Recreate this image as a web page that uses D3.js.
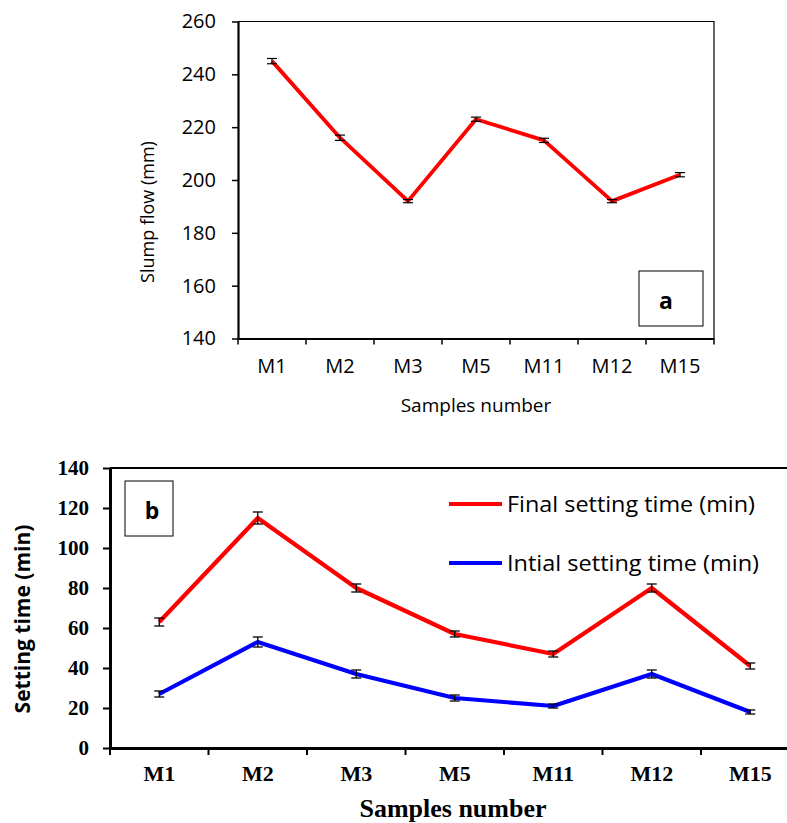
<!DOCTYPE html>
<html><head><meta charset="utf-8">
<script src="https://cdn.jsdelivr.net/npm/d3@7"></script>
<style>body{margin:0;background:#fff}svg{display:block}</style>
</head><body>
<svg id="c" width="787" height="823"></svg>
<script>
const categories = ["M1","M2","M3","M5","M11","M12","M15"];
const slumpFlow = [245,216,192,223,215,192,202];
const slumpErr = [1,1,0.6,0.8,0.8,0.6,0.8];
const slumpTicks = [140,160,180,200,220,240,260];
const finalSetting = [63,115,80,57,47,80,41];
const finalErr = [2,3,2,1.5,1.5,2,1.5];
const initialSetting = [27,53,37,25,21,37,18];
const initialErr = [1.5,2.5,2,1.5,1,2,1];
const settingTicks = [0,20,40,60,80,100,120,140];
const legendLabels = ["Final setting time (min)","Intial setting time (min)"];

const svg = d3.select("#c");
const sans = "'Open Sans', sans-serif";
const serif = "'Liberation Serif', 'Times New Roman', serif";

// ---------- Chart a ----------
(function(){
  const L=238, R=714, T=21.5, B=338.5;
  const g = svg.append("g");
  const x = d3.scaleBand().domain(categories).range([L,R]);
  const y = d3.scaleLinear().domain([140,260]).range([B,T]);
  g.append("path").attr("d",`M${L},${T}H${R}V${B}`).attr("fill","none").attr("stroke","#000").attr("stroke-width",1.2);
  const ya = g.append("g").attr("transform",`translate(${L},0)`)
    .call(d3.axisLeft(y).tickValues(slumpTicks).tickSize(6).tickPadding(16).tickSizeOuter(0));
  ya.select(".domain").attr("stroke-width",2.2);
  ya.selectAll(".tick line").attr("stroke-width",1.5);
  ya.selectAll("text").attr("font-family",sans).attr("font-size",20).attr("fill","#000");
  const xa = g.append("g").attr("transform",`translate(0,${B})`)
    .call(d3.axisBottom(x).tickSize(0).tickPadding(20).tickSizeOuter(0));
  xa.select(".domain").attr("stroke-width",2.2);
  xa.selectAll("text").attr("font-family",sans).attr("font-size",20).attr("fill","#000");
  g.append("g").selectAll("line").data(d3.range(categories.length+1)).join("line")
    .attr("x1",i=>L+i*x.step()).attr("x2",i=>L+i*x.step()).attr("y1",B).attr("y2",B+6)
    .attr("stroke","#000").attr("stroke-width",1.5);
  const line = d3.line().x((d,i)=>x(categories[i])+x.bandwidth()/2).y(d=>y(d));
  g.append("path").datum(slumpFlow).attr("d",line).attr("fill","none").attr("stroke","#ff0000").attr("stroke-width",3.8).attr("stroke-linejoin","round");
  const eb = g.append("g").attr("stroke","#000").attr("stroke-width",1.2);
  slumpFlow.forEach((v,i)=>{
    const cx = x(categories[i])+x.bandwidth()/2;
    eb.append("line").attr("x1",cx).attr("x2",cx).attr("y1",y(v-slumpErr[i])).attr("y2",y(v+slumpErr[i]));
    eb.append("line").attr("x1",cx-5).attr("x2",cx+5).attr("y1",y(v-slumpErr[i])).attr("y2",y(v-slumpErr[i]));
    eb.append("line").attr("x1",cx-5).attr("x2",cx+5).attr("y1",y(v+slumpErr[i])).attr("y2",y(v+slumpErr[i]));
  });
  g.append("rect").attr("x",639).attr("y",271).attr("width",64).attr("height",55).attr("fill","#fff").attr("stroke","#000").attr("stroke-width",1);
  g.append("text").attr("x",666).attr("y",309).attr("text-anchor","middle").attr("font-family",sans).attr("font-weight","bold").attr("font-size",23).text("a");
  g.append("text").attr("transform","translate(154,212) rotate(-90)").attr("text-anchor","middle")
    .attr("font-family",sans).attr("font-size",18).text("Slump flow  (mm)");
  g.append("text").attr("x",476).attr("y",412).attr("text-anchor","middle").attr("font-family",sans).attr("font-size",19).text("Samples number");
})();

// ---------- Chart b ----------
(function(){
  const L=110, Rfull=110+7*98.5, T=468, B=748;
  const g = svg.append("g");
  const x = d3.scaleBand().domain(categories).range([L,Rfull]);
  const y = d3.scaleLinear().domain([0,140]).range([B,T]);
  g.append("line").attr("x1",L).attr("x2",800).attr("y1",T).attr("y2",T).attr("stroke","#000").attr("stroke-width",2);
  const ya = g.append("g").attr("transform",`translate(${L},0)`)
    .call(d3.axisLeft(y).tickValues(settingTicks).tickSize(7).tickPadding(14).tickSizeOuter(0));
  ya.select(".domain").attr("stroke-width",3);
  ya.selectAll(".tick line").attr("stroke-width",2);
  ya.selectAll("text").attr("font-family",serif).attr("font-weight","bold").attr("font-size",21).attr("fill","#000");
  const xa = g.append("g").attr("transform",`translate(0,${B})`)
    .call(d3.axisBottom(x).tickSize(0).tickPadding(17).tickSizeOuter(0));
  xa.select(".domain").attr("stroke-width",3);
  xa.selectAll("text").attr("font-family",serif).attr("font-weight","bold").attr("font-size",22).attr("fill","#000");
  g.append("g").selectAll("line").data(d3.range(categories.length+1)).join("line")
    .attr("x1",i=>L+i*x.step()).attr("x2",i=>L+i*x.step()).attr("y1",B).attr("y2",B+7)
    .attr("stroke","#000").attr("stroke-width",2);
  const line = d3.line().x((d,i)=>x(categories[i])+x.bandwidth()/2).y(d=>y(d));
  const series = [[finalSetting,finalErr,"#ff0000"],[initialSetting,initialErr,"#0000ff"]];
  series.forEach(([vals,errs,col])=>{
    g.append("path").datum(vals).attr("d",line).attr("fill","none").attr("stroke",col).attr("stroke-width",4.2).attr("stroke-linejoin","round");
  });
  series.forEach(([vals,errs,col])=>{
    const eb = g.append("g").attr("stroke","#000").attr("stroke-width",1.3);
    vals.forEach((v,i)=>{
      const cx = x(categories[i])+x.bandwidth()/2;
      eb.append("line").attr("x1",cx).attr("x2",cx).attr("y1",y(v-errs[i])).attr("y2",y(v+errs[i]));
      eb.append("line").attr("x1",cx-5).attr("x2",cx+5).attr("y1",y(v-errs[i])).attr("y2",y(v-errs[i]));
      eb.append("line").attr("x1",cx-5).attr("x2",cx+5).attr("y1",y(v+errs[i])).attr("y2",y(v+errs[i]));
    });
  });
  g.append("rect").attr("x",125).attr("y",481).attr("width",48).attr("height",55).attr("fill","#fff").attr("stroke","#000").attr("stroke-width",1);
  g.append("text").attr("x",152).attr("y",519).attr("text-anchor","middle").attr("font-family",sans).attr("font-weight","bold").attr("font-size",23).text("b");
  const lg = g.append("g");
  [["#ff0000",504],["#0000ff",563]].forEach(([col,ly],i)=>{
    lg.append("line").attr("x1",449).attr("x2",502).attr("y1",ly).attr("y2",ly).attr("stroke",col).attr("stroke-width",4.2);
    lg.append("text").attr("x",507).attr("y",ly+8).attr("font-family",sans).attr("font-size",21)
      .attr("textLength",i===0?248:252).attr("lengthAdjust","spacingAndGlyphs").attr("fill","#000").text(legendLabels[i]);
  });
  g.append("text").attr("transform","translate(30,619) rotate(-90)").attr("text-anchor","middle")
    .attr("font-family",sans).attr("font-weight","bold").attr("font-size",21).text("Setting time (min)");
  g.append("text").attr("x",453).attr("y",817).attr("text-anchor","middle").attr("font-family",serif).attr("font-weight","bold").attr("font-size",26).text("Samples number");
})();
</script>
</body></html>
